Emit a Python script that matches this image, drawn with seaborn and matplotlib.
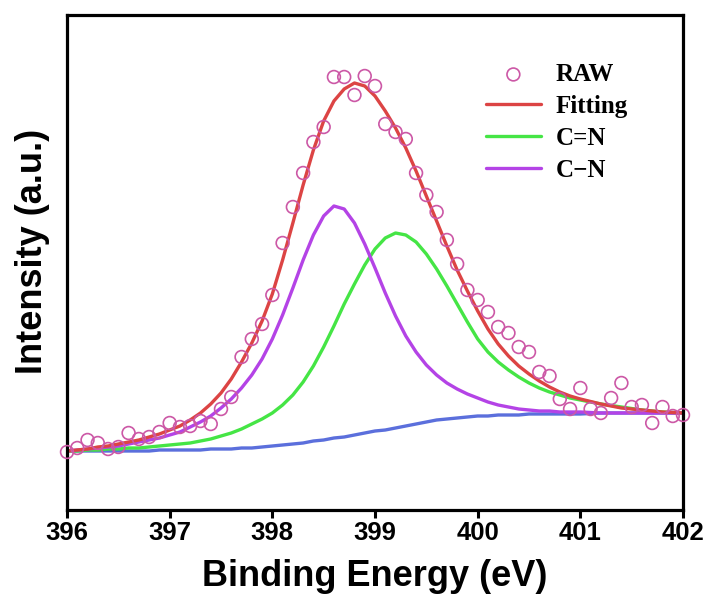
import numpy as np
import pandas as pd
import matplotlib
matplotlib.use("Agg")
import matplotlib.pyplot as plt
import seaborn as sns

# ---------------- data ----------------
energy_raw = [396.0, 396.1, 396.2, 396.3, 396.4, 396.5, 396.6, 396.7, 396.8, 396.9,
              397.0, 397.1, 397.2, 397.3, 397.4, 397.5, 397.6, 397.7, 397.8, 397.9,
              398.0, 398.1, 398.2, 398.3, 398.4, 398.5, 398.6, 398.7, 398.8, 398.9,
              399.0, 399.1, 399.2, 399.3, 399.4, 399.5, 399.6, 399.7, 399.8, 399.9,
              400.0, 400.1, 400.2, 400.3, 400.4, 400.5, 400.6, 400.7, 400.8, 400.9,
              401.0, 401.1, 401.2, 401.3, 401.4, 401.5, 401.6, 401.7, 401.8, 401.9,
              402.0]
raw = [58, 62, 70, 67, 61, 63, 77, 71, 73, 78,
       87, 83, 84, 89, 86, 101, 113, 153, 171, 186,
       215, 267, 303, 337, 368, 383, 433, 433, 415, 434,
       424, 386, 378, 371, 337, 315, 298, 270, 246, 220,
       210, 198, 183, 177, 163, 158, 138, 134, 111, 101,
       122, 101, 97, 112, 127, 103, 105, 87, 103, 94,
       95]

energy_fit = [396.0, 396.1, 396.2, 396.3, 396.4, 396.5, 396.6, 396.7, 396.8, 396.9,
              397.0, 397.1, 397.2, 397.3, 397.4, 397.5, 397.6, 397.7, 397.8, 397.9,
              398.0, 398.1, 398.2, 398.3, 398.4, 398.5, 398.6, 398.7, 398.8, 398.9,
              399.0, 399.1, 399.2, 399.3, 399.4, 399.5, 399.6, 399.7, 399.8, 399.9,
              400.0, 400.1, 400.2, 400.3, 400.4, 400.5, 400.6, 400.7, 400.8, 400.9,
              401.0, 401.2, 401.4, 401.6, 401.8, 402.0]
fitting = [59, 60, 61, 63, 64, 66, 68, 70, 73, 76,
           80, 84, 90, 97, 106, 117, 131, 148, 167, 189,
           216, 250, 287, 325, 360, 389, 409, 421, 427, 424,
           414, 399, 382, 362, 339, 314, 289, 264, 240, 219,
           199, 181, 166, 154, 144, 136, 129, 123, 118, 114,
           111, 106, 102, 100, 98, 97]
c_eq_n = [59, 59, 60, 60, 61, 61, 62, 62, 63, 64,
          65, 66, 67, 69, 71, 74, 77, 81, 86, 91,
          97, 105, 115, 128, 144, 163, 184, 206, 226, 245,
          261, 272, 277, 275, 268, 256, 241, 224, 206, 188,
          171, 158, 148, 140, 133, 127, 122, 118, 115, 112,
          110, 106, 103, 100, 98, 97]
c_n = [59, 60, 61, 62, 63, 64, 66, 68, 70, 72,
       75, 78, 83, 88, 94, 102, 111, 122, 135, 151,
       171, 195, 222, 250, 275, 294, 304, 301, 287, 266,
       242, 217, 194, 174, 158, 145, 135, 127, 121, 116,
       112, 108, 105, 103, 101, 100, 99, 99, 98, 98,
       98, 97, 97, 97, 97, 97]
background = [59, 59, 59, 59, 59, 59, 59, 59, 59, 60,
              60, 60, 60, 60, 61, 61, 61, 62, 62, 63,
              64, 65, 66, 67, 69, 70, 72, 73, 75, 77,
              79, 80, 82, 84, 86, 88, 90, 91, 92, 93,
              94, 94, 95, 95, 95, 96, 96, 96, 96, 96,
              96, 97, 97, 97, 97, 97]

x_ticks = [396, 397, 398, 399, 400, 401, 402]

# ---------------- styling ----------------
sns.set_theme(style="white")
plt.rcParams['font.family'] = ['Liberation Sans', 'DejaVu Sans']
plt.rcParams['text.color'] = 'black'
plt.rcParams['axes.labelcolor'] = 'black'
plt.rcParams['xtick.color'] = 'black'
plt.rcParams['ytick.color'] = 'black'

df_raw = pd.DataFrame({"E": energy_raw, "I": raw})
df_fit = pd.DataFrame({"E": energy_fit, "Fitting": fitting, "C=N": c_eq_n,
                       "C\u2212N": c_n, "BG": background})

fig = plt.figure(figsize=(7.10, 5.94), dpi=100)
ax = fig.add_axes([67 / 710, 84 / 594, 616 / 710, 495 / 594])

lw = 2.4
sns.lineplot(data=df_fit, x="E", y="BG", ax=ax, color="#5b6fdc", lw=lw, label="_nolegend_")
sns.lineplot(data=df_fit, x="E", y="C=N", ax=ax, color="#45e545", lw=lw, label="C=N")
sns.lineplot(data=df_fit, x="E", y="C\u2212N", ax=ax, color="#b443e6", lw=lw, label="C\u2212N")
sns.lineplot(data=df_fit, x="E", y="Fitting", ax=ax, color="#dc4444", lw=lw, label="Fitting")
sns.scatterplot(data=df_raw, x="E", y="I", ax=ax, marker="o", s=85,
                facecolors="none", edgecolor="#cc58a6", linewidth=1.2,
                label="RAW", zorder=5, clip_on=False)

ax.set_xlim(396, 402)
ax.set_ylim(0, 495)
ax.set_xticks(x_ticks)
ax.set_xticklabels([str(t) for t in x_ticks])
ax.set_yticks([])

for sp in ax.spines.values():
    sp.set_linewidth(2.3)
    sp.set_color("black")
    sp.set_visible(True)

ax.tick_params(axis="x", direction="out", length=6, width=2.2, bottom=True,
               labelsize=18.5, pad=2, colors="black")
for lab in ax.get_xticklabels():
    lab.set_fontweight("bold")

ax.set_xlabel("Binding Energy (eV)", fontsize=26, fontweight="bold", labelpad=10)
ax.set_ylabel("Intensity (a.u.)", fontsize=26, fontweight="bold")
ax.yaxis.set_label_coords(-0.028, 0.523)

handles, labels = ax.get_legend_handles_labels()
order = ["RAW", "Fitting", "C=N", "C\u2212N"]
hmap = dict(zip(labels, handles))
leg = ax.legend([hmap[k] for k in order], order, loc="upper left",
                bbox_to_anchor=(0.68, 0.903), frameon=False,
                prop={"family": ["Liberation Serif", "DejaVu Serif"], "weight": "bold", "size": 18},
                handlelength=2.2, handletextpad=0.6, labelspacing=0.36,
                borderpad=0, borderaxespad=0)

fig.savefig("out.png", dpi=100)
